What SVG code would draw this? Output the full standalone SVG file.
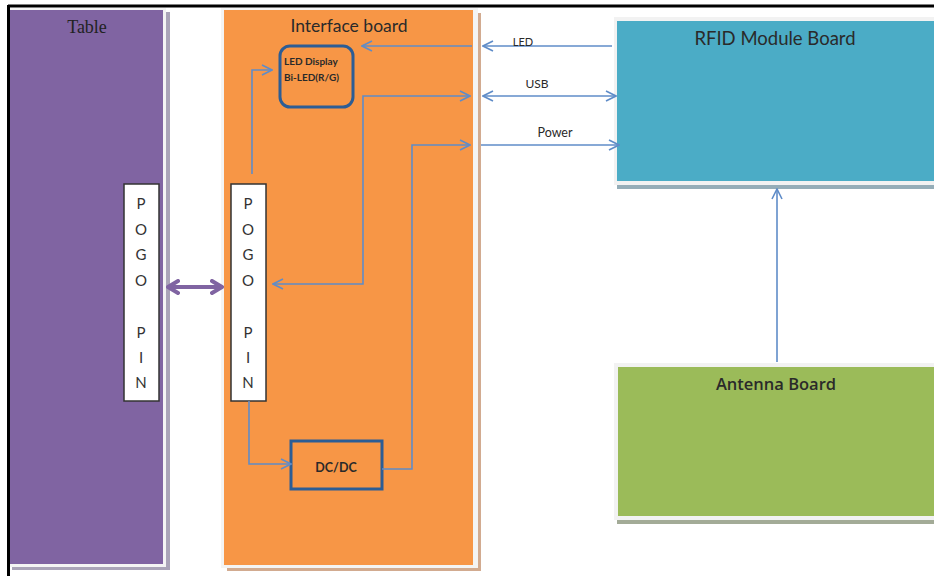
<svg xmlns="http://www.w3.org/2000/svg" width="934" height="576" viewBox="0 0 934 576">
<style>
.lbl{font-family:Lato,"Open Sans","Liberation Sans",sans-serif;fill:#2a2a2a}
.pin{font-family:Lato,"Open Sans","Liberation Sans",sans-serif;font-size:15px;fill:#333;text-anchor:middle}
.conn{fill:none;stroke:#5f8cc8;stroke-width:1.6}
.box{fill:none;stroke:#2c5d95;stroke-width:3}
</style>
<defs>
<marker id="ah" viewBox="0 0 12 12" refX="11" refY="6" markerWidth="12" markerHeight="12" markerUnits="userSpaceOnUse" orient="auto-start-reverse">
<path d="M1,1 L11,6 L1,11" fill="none" stroke="#5f8cc8" stroke-width="1.6"/>
</marker>
<marker id="ahp" viewBox="0 0 14 16" refX="12" refY="8" markerWidth="14" markerHeight="16" markerUnits="userSpaceOnUse" orient="auto-start-reverse">
<path d="M2,2 L12,8 L2,14" fill="none" stroke="#8064a2" stroke-width="4" stroke-linecap="round" stroke-linejoin="round"/>
</marker>
</defs>
<rect width="934" height="576" fill="#fff"/>

<g id="table">
<rect x="12" y="12" width="158" height="558" fill="#aaa4b8"/>
<rect x="8" y="8" width="158" height="559" fill="#f4f4f4"/>
<rect x="10" y="10" width="153" height="554" fill="#8064a2"/>
<text x="87" y="33" font-family="'Liberation Serif',serif" font-size="18" fill="#222" text-anchor="middle">Table</text>
</g>

<g id="table-pogo">
<rect x="124" y="184" width="35" height="217" fill="#fff" stroke="#333" stroke-width="1.5"/>
<text class="pin" x="141" y="209">P</text>
<text class="pin" x="141" y="235">O</text>
<text class="pin" x="141" y="260">G</text>
<text class="pin" x="141" y="286">O</text>
<text class="pin" x="141" y="338">P</text>
<text class="pin" x="141" y="363">I</text>
<text class="pin" x="141" y="388">N</text>
</g>

<g id="interface-board">
<rect x="227" y="13" width="254" height="558" fill="#d2ab90"/>
<rect x="221" y="8" width="257" height="560" fill="#f4f4f4"/>
<rect x="224" y="10" width="249" height="555" fill="#f79646"/>
<text class="lbl" x="349" y="32" font-size="17.5" text-anchor="middle">Interface board</text>
</g>

<g id="led-display">
<rect class="box" x="280" y="46" width="73" height="61" rx="10"/>
<text class="lbl" x="284" y="65" font-size="10" font-weight="bold">LED Display</text>
<text class="lbl" x="284" y="81" font-size="10" font-weight="bold">Bi-LED(R/G)</text>
</g>

<g id="iface-pogo">
<rect x="231" y="184" width="35" height="217" fill="#fff" stroke="#333" stroke-width="1.5"/>
<text class="pin" x="248" y="209">P</text>
<text class="pin" x="248" y="235">O</text>
<text class="pin" x="248" y="260">G</text>
<text class="pin" x="248" y="286">O</text>
<text class="pin" x="248" y="338">P</text>
<text class="pin" x="248" y="363">I</text>
<text class="pin" x="248" y="388">N</text>
</g>

<g id="dcdc">
<rect class="box" x="291" y="441" width="91" height="48"/>
<text class="lbl" x="336" y="472" font-size="12.5" font-weight="bold" text-anchor="middle">DC/DC</text>
</g>

<g id="rfid">
<rect x="617" y="24" width="317" height="165" fill="#95adb8"/>
<rect x="614" y="17" width="320" height="168" fill="#f2f2f2"/>
<rect x="617" y="21" width="317" height="160" fill="#4bacc6"/>
<text class="lbl" x="775" y="45" font-size="18.5" text-anchor="middle">RFID Module Board</text>
</g>

<g id="antenna">
<rect x="617" y="370" width="317" height="154" fill="#a3ab97"/>
<rect x="614" y="363" width="320" height="157" fill="#f2f2f2"/>
<rect x="618" y="367" width="316" height="149" fill="#9bbb59"/>
<text x="776" y="390" font-family="'Open Sans',Lato,sans-serif" font-size="16.5" font-weight="600" fill="#2a2a2a" text-anchor="middle">Antenna Board</text>
</g>

<g id="connectors">
<line class="conn" x1="472" y1="46" x2="362" y2="46" marker-end="url(#ah)"/>
<polyline class="conn" points="252,174 252,70 272,70" marker-end="url(#ah)"/>
<polyline class="conn" points="273,284 363,284 363,96 470,96" marker-start="url(#ah)" marker-end="url(#ah)"/>
<polyline class="conn" points="382,469 412,469 412,145 470,145" marker-end="url(#ah)"/>
<polyline class="conn" points="249,401 249,464 291,464" marker-end="url(#ah)"/>
<line class="conn" x1="612" y1="46" x2="483" y2="46" marker-end="url(#ah)"/>
<line class="conn" x1="483" y1="96" x2="616" y2="96" marker-start="url(#ah)" marker-end="url(#ah)"/>
<line class="conn" x1="481" y1="145" x2="619" y2="145" marker-end="url(#ah)"/>
<line class="conn" x1="777" y1="362" x2="777" y2="189" marker-end="url(#ah)"/>
<line x1="168" y1="287" x2="222" y2="287" stroke="#8064a2" stroke-width="4" marker-start="url(#ahp)" marker-end="url(#ahp)"/>
<text class="lbl" x="523" y="46" font-size="11" text-anchor="middle">LED</text>
<text class="lbl" x="537" y="88" font-size="12" text-anchor="middle">USB</text>
<text class="lbl" x="555" y="137" font-size="12.5" text-anchor="middle">Power</text>
</g>

<line x1="8" y1="6" x2="934" y2="6" stroke="#000" stroke-width="3"/>
<line x1="8.5" y1="5" x2="8.5" y2="576" stroke="#000" stroke-width="3"/>
</svg>
